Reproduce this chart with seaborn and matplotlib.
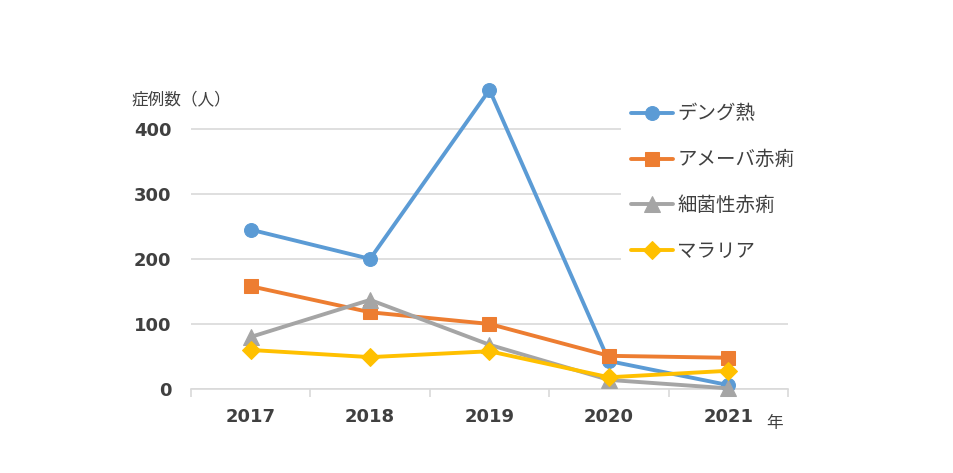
import matplotlib
matplotlib.use("Agg")
import matplotlib.pyplot as plt
from matplotlib.patches import Rectangle
import seaborn as sns
import pandas as pd
import numpy as np

sns.set_style("white")
plt.rcParams['font.family'] = ['DejaVu Sans', 'Noto Sans CJK JP']

# data
years = ['2017', '2018', '2019', '2020', '2021']
dengue = [245, 200, 460, 43, 6]
amoeba = [158, 118, 100, 51, 48]
shigella = [80, 137, 68, 14, 1]
malaria = [60, 49, 58, 18, 28]
series_names = ['デング熱', 'アメーバ赤痢', '細菌性赤痢', 'マラリア']
colors = ['#5B9BD5', '#ED7D31', '#A5A5A5', '#FFC000']
markers = ['o', 's', '^', 'D']
msizes = [10, 10, 11, 9]

df = pd.DataFrame({
    'year': years * 4,
    'cases': dengue + amoeba + shigella + malaria,
    'disease': np.repeat(series_names, len(years)),
})

fig = plt.figure(figsize=(9.54, 4.73), dpi=100)
ax = fig.add_axes([0.2002, 0.1776, 0.6258, 0.66])

for name, c, m, ms in zip(series_names, colors, markers, msizes):
    sub = df[df['disease'] == name]
    sns.lineplot(data=sub, x='year', y='cases', color=c, marker=m, markersize=ms,
                 markeredgecolor=c, linewidth=2.8, ax=ax, label=name, clip_on=False,
                 zorder=3)

ax.set_xlim(-0.5, 4.5)
ax.set_ylim(0, 480)
ax.set_yticks([0, 100, 200, 300, 400])
ax.grid(axis='y', color='#D9D9D9', linewidth=1.2)
ax.set_axisbelow(True)

for s in ['top', 'right', 'left']:
    ax.spines[s].set_visible(False)
ax.spines['bottom'].set_color('#D9D9D9')
ax.spines['bottom'].set_linewidth(1.2)

ax.set_xticks(range(len(years)))
ax.set_xticklabels(years)
ax.set_xticks(np.arange(-0.5, 5, 1), minor=True)
ax.tick_params(axis='x', which='major', bottom=True, length=0, pad=14)
ax.tick_params(axis='x', which='minor', bottom=True, length=6, color='#D9D9D9',
               width=1.2, direction='out')
ax.tick_params(axis='y', length=0, pad=14)
for lab in ax.get_xticklabels() + ax.get_yticklabels():
    lab.set_fontsize(13)
    lab.set_fontweight('bold')
    lab.set_color('#404040')

ax.set_xlabel('')
ax.set_ylabel('')

# white block behind the legend (hides the gridlines like the original)
ax.add_patch(Rectangle((621 / 954, 1 - 292 / 473), 180 / 954, 200 / 473,
                       transform=fig.transFigure, facecolor='white',
                       edgecolor='none', zorder=1.5))

cjk = ['Noto Sans CJK JP', 'DejaVu Sans']
fig.text(132 / 954, 1 - 100 / 473, '症例数（人）', family=cjk, fontsize=12,
         color='#404040', va='center', ha='left')
fig.text(766 / 954, 1 - 423 / 473, '年', family=cjk, fontsize=12,
         color='#404040', va='center', ha='left')

leg = ax.legend(loc='upper left', bbox_to_anchor=(617 / 954, 1 - 90 / 473),
                bbox_transform=fig.transFigure, frameon=False,
                prop={'family': cjk, 'size': 14}, handlelength=2.2,
                handletextpad=0.2, labelspacing=1.27, borderpad=0.2)
for t in leg.get_texts():
    t.set_color('#404040')

fig.savefig('out.png', dpi=100)
